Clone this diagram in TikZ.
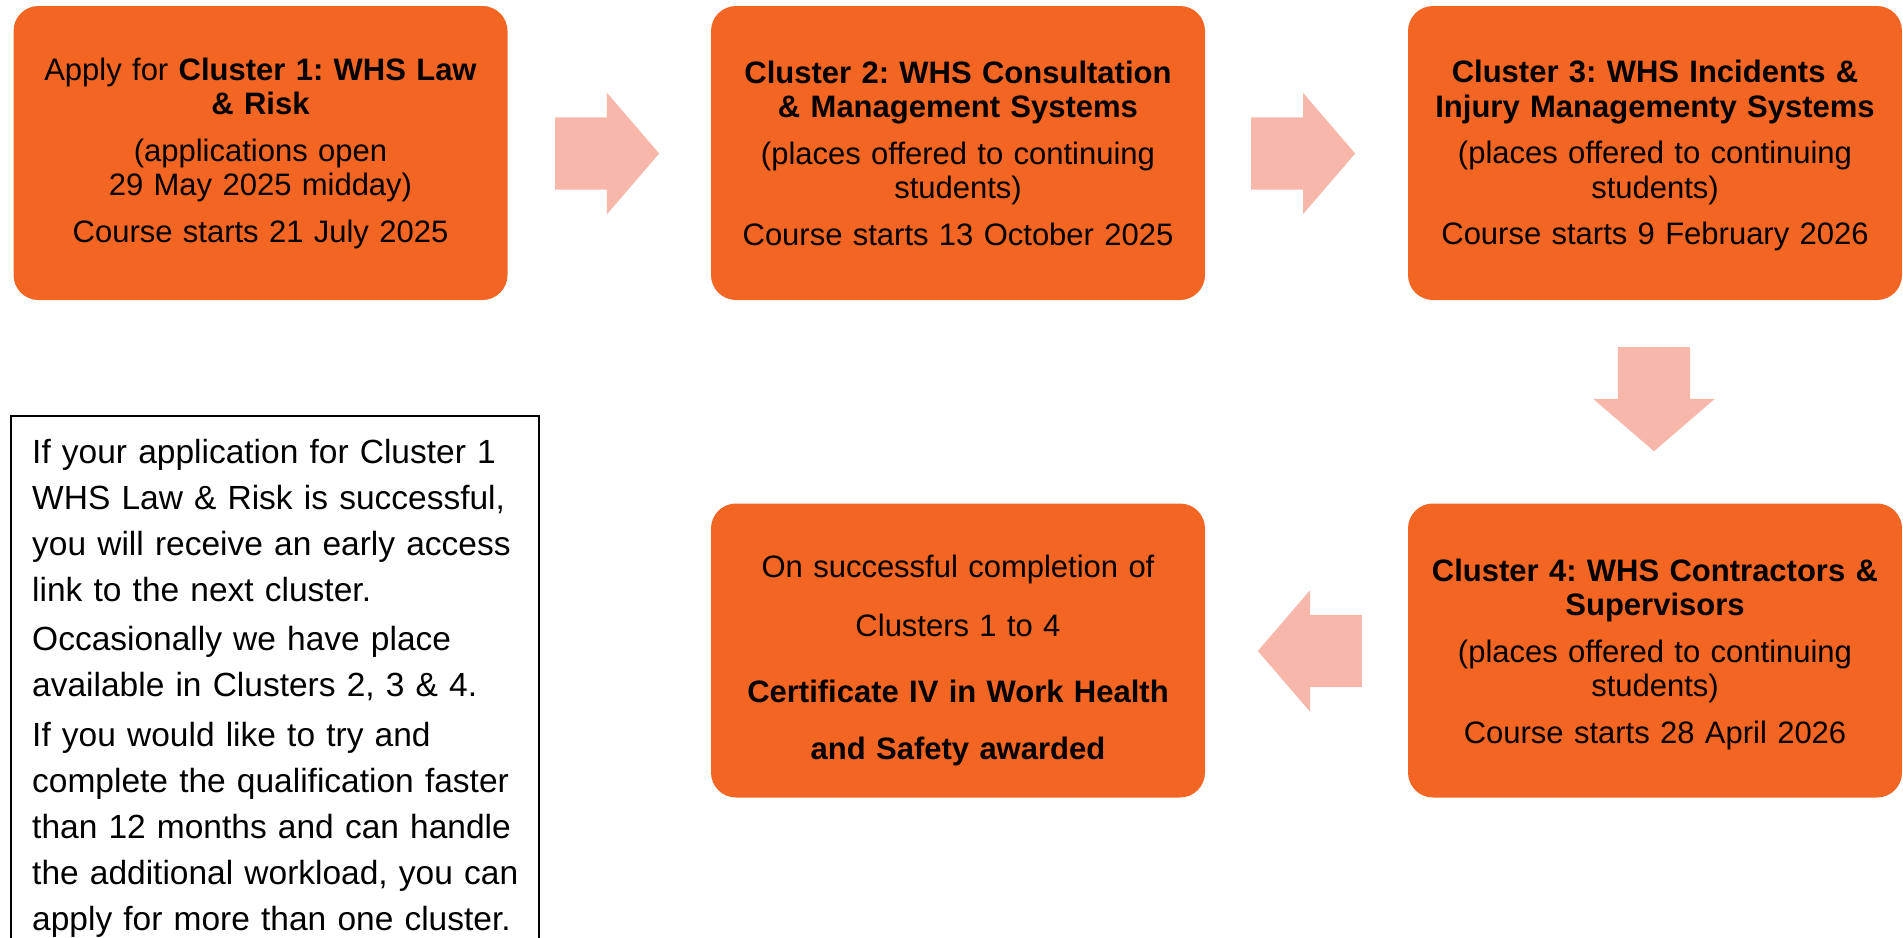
\documentclass[tikz,border=0pt]{standalone}
\usepackage{fontspec}
\setmainfont{Liberation Sans}
\usetikzlibrary{shapes.arrows}
\definecolor{whsorange}{HTML}{F36523}
\definecolor{whspink}{HTML}{F7B8AB}
\tikzset{
	clusterbox/.style={shape=rectangle, rounded corners=25pt, fill=whsorange, minimum width=494pt, minimum height=294pt, text width=480pt, align=center, inner sep=0pt, font=\fontsize{31}{34.5}\selectfont\frenchspacing},
	flowarrow/.style={single arrow, fill=whspink, minimum height=104pt, single arrow head extend=24.5pt, single arrow tip angle=98.6, inner xsep=0pt, inner ysep=36pt, anchor=tail},
	notetext/.style={text width=500pt, align=left, inner sep=0pt, font=\fontsize{33.5}{46}\selectfont\frenchspacing}
}
\begin{document}
\begin{tikzpicture}[x=1pt, y=-1pt]
	
	\clip (0,0) rectangle (1903,937);
	
	\node[clusterbox] (c1) at (260.5, 153) {Apply for \textbf{Cluster 1: WHS Law}\\\textbf{\& Risk}\\[12pt](applications open\\29 May 2025 midday)\\[12pt]Course starts 21 July 2025};
	\node[clusterbox] (c2) at (958, 153) {\textbf{Cluster 2: WHS Consultation}\\\textbf{\& Management Systems}\\[12pt](places offered to continuing\\students)\\[12pt]Course starts 13 October 2025};
	\node[clusterbox] (c3) at (1655, 153) {\rule{0pt}{28pt}\textbf{Cluster 3: WHS Incidents \&}\\\textbf{Injury Managementy Systems}\\[12pt](places offered to continuing\\students)\\[12pt]Course starts 9 February 2026};
	\node[clusterbox] (c4) at (1655, 650.5) {\rule{0pt}{30pt}\textbf{Cluster 4: WHS Contractors \&}\\\textbf{Supervisors}\\[12pt](places offered to continuing\\students)\\[12pt]Course starts 28 April 2026};
	\node[clusterbox] (award) at (958, 650.5) {\rule{0pt}{42pt}On successful completion of\\[24pt]Clusters 1 to 4\\[32pt]\textbf{Certificate IV in Work Health}\\[22pt]\textbf{and Safety awarded}};
	
	\node[flowarrow] (a12) at (555, 153.5) {};
	\node[flowarrow] (a23) at (1251, 153.5) {};
	\node[flowarrow, rotate=-90] (a34) at (1654, 347) {};
	\node[flowarrow, rotate=180] (a4award) at (1362, 651) {};
	
	\node[draw=black, line width=2pt, outer sep=0pt, minimum width=528pt, minimum height=560pt, anchor=north west] (noteframe) at (11, 416) {};
	\node[notetext, anchor=north west] (note) at (32, 439) {If your application for Cluster 1\\WHS Law \& Risk is successful,\\you will receive an early access\\link to the next cluster.\\[3.5pt]Occasionally we have place\\available in Clusters 2, 3 \& 4.\\[3.5pt]If you would like to try and\\complete the qualification faster\\than 12 months and can handle\\the additional workload, you can\\apply for more than one cluster.};
	
\end{tikzpicture}
\end{document}
